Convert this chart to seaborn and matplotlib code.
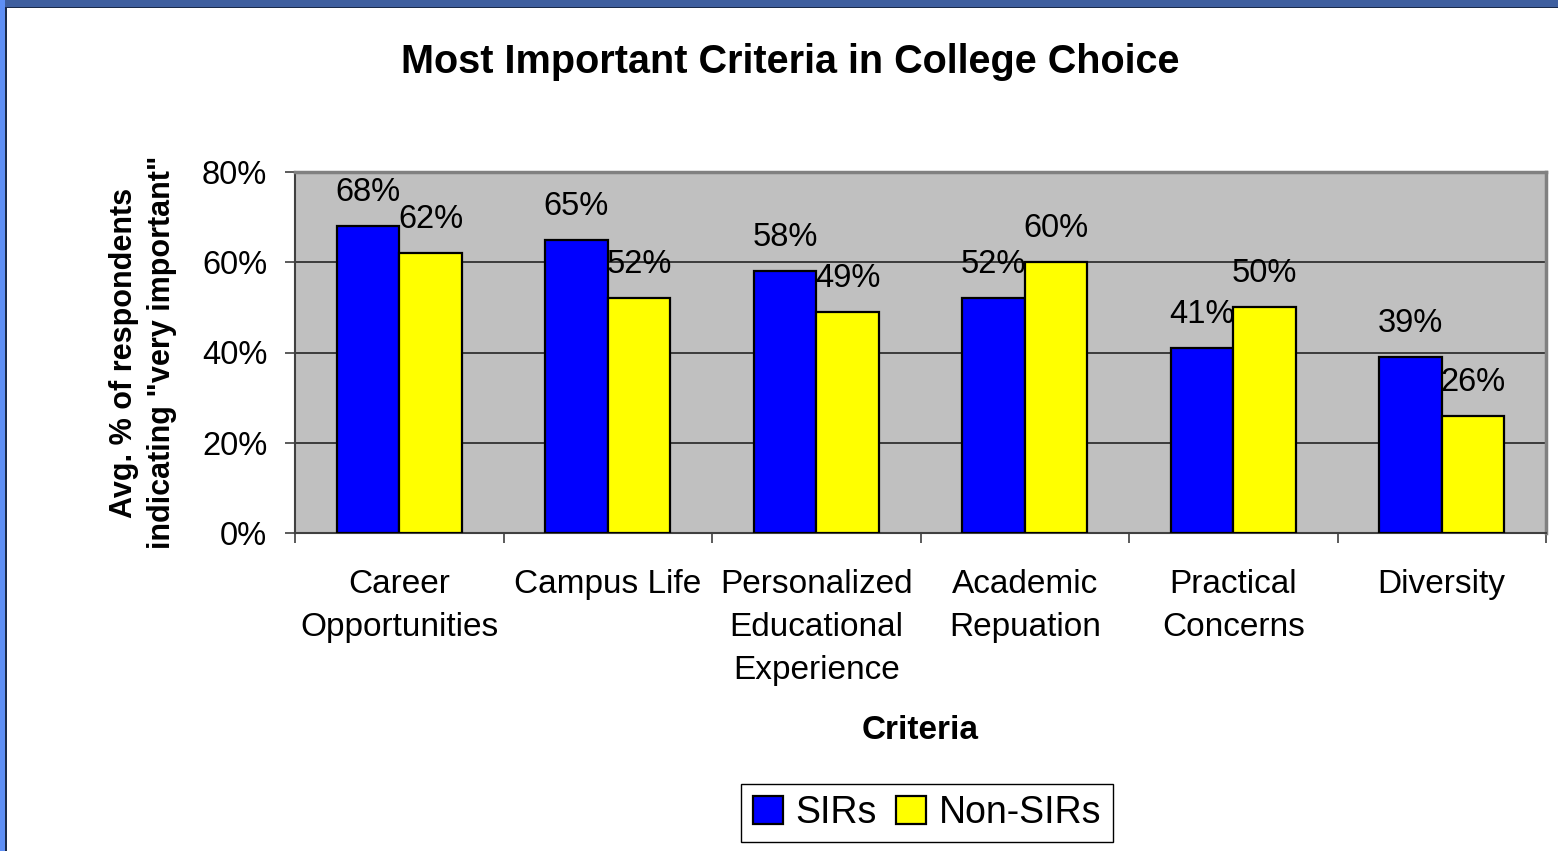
import seaborn as sns; import matplotlib.pyplot as plt
import numpy as np; import pandas as pd
from matplotlib.patches import Patch, Rectangle
from matplotlib.ticker import PercentFormatter

categories = ["Career\nOpportunities", "Campus Life", "Personalized\nEducational\nExperience",
              "Academic\nRepuation", "Practical\nConcerns", "Diversity"]
sirs = [68, 65, 58, 52, 41, 39]
non_sirs = [62, 52, 49, 60, 50, 26]
groups = ["SIRs", "Non-SIRs"]
colors = {"SIRs": "#0000ff", "Non-SIRs": "#ffff00"}

df = pd.DataFrame({"criteria": categories * 2,
                   "group": ["SIRs"] * 6 + ["Non-SIRs"] * 6,
                   "pct": sirs + non_sirs})

sns.set_theme(style='white')
plt.rcParams['font.family'] = ['Liberation Sans', 'DejaVu Sans']
plt.rcParams.update({'text.color': 'black', 'axes.labelcolor': 'black',
                     'xtick.color': 'black', 'ytick.color': 'black'})

W, H = 1558, 851
fig = plt.figure(figsize=(W / 100, H / 100), dpi=100)
ax = fig.add_axes([295 / W, 1 - 533 / H, (1546 - 295) / W, (533 - 172) / H])

sns.barplot(data=df, x="criteria", y="pct", hue="group", hue_order=groups, order=categories,
            palette=colors, saturation=1, width=0.6, edgecolor='black', linewidth=1.6,
            legend=False, ax=ax, zorder=3)

# value labels above each bar
for cont in ax.containers:
    ax.bar_label(cont, labels=[f"{v:.0f}%" for v in cont.datavalues], padding=13,
                 fontsize=23.5, color='black')

ax.set_facecolor('#c0c0c0')
ax.set_ylim(0, 80)
ax.set_xlim(-0.5, 5.5)
ax.set_yticks([0, 20, 40, 60, 80])
ax.yaxis.set_major_formatter(PercentFormatter(decimals=0))
ax.yaxis.grid(True, color='#303030', linewidth=1.3, zorder=0)
ax.set_axisbelow(True)

for s in ['top', 'right']:
    ax.spines[s].set_color('#808080'); ax.spines[s].set_linewidth(2.5)
for s in ['left', 'bottom']:
    ax.spines[s].set_color('#404040'); ax.spines[s].set_linewidth(1.5)

ax.tick_params(axis='y', which='major', left=True, length=7, width=1.2, color='#404040',
               pad=13, labelsize=23.5)
ax.set_xticks(np.arange(len(categories)))
ax.set_xticklabels(categories)
for lbl in ax.get_xticklabels():
    lbl.set_linespacing(1.5)
ax.set_xticks(np.arange(-0.5, 6, 1), minor=True)
ax.tick_params(axis='x', which='major', bottom=False, length=0, pad=26, labelsize=24)
ax.tick_params(axis='x', which='minor', bottom=True, length=7, width=1.2, color='#404040')

ax.set_xlabel("Criteria", fontsize=24, fontweight='bold', labelpad=21)
ax.set_ylabel('Avg. % of respondents\nindicating "very important"', fontsize=22,
              fontweight='bold', linespacing=1.35, labelpad=18)

fig.text(790 / W, 1 - 62 / H, "Most Important Criteria in College Choice", fontsize=28.5,
         fontweight='bold', ha='center', va='center')

handles = [Patch(facecolor=colors[g], edgecolor='black', linewidth=1.6) for g in groups]
ax.legend(handles, groups, loc='center', bbox_to_anchor=(927 / W, 1 - 813 / H),
          bbox_transform=fig.transFigure, ncol=2, fontsize=27, frameon=True, fancybox=False,
          edgecolor='black', framealpha=1, handlelength=0.8, handleheight=0.8,
          handletextpad=0.35, columnspacing=0.5, borderpad=0.3, borderaxespad=0)
ax.get_legend().get_frame().set_linewidth(1.0)

# slide border strips
fig.patches.append(Rectangle((0, 1 - 7 / H), 1, 7 / H, transform=fig.transFigure,
                             facecolor='#3f5f9f', edgecolor='none', zorder=10))
fig.patches.append(Rectangle((0, 1 - 8 / H), 1, 1.5 / H, transform=fig.transFigure,
                             facecolor='#1a2a4a', edgecolor='none', zorder=10))
fig.patches.append(Rectangle((0, 0), 5 / W, 1, transform=fig.transFigure,
                             facecolor='#5e8ff5', edgecolor='none', zorder=10))
fig.patches.append(Rectangle((5 / W, 0), 2 / W, 1 - 7 / H, transform=fig.transFigure,
                             facecolor='#1a2a4a', edgecolor='none', zorder=10))

plt.savefig('out.png', dpi=100)
